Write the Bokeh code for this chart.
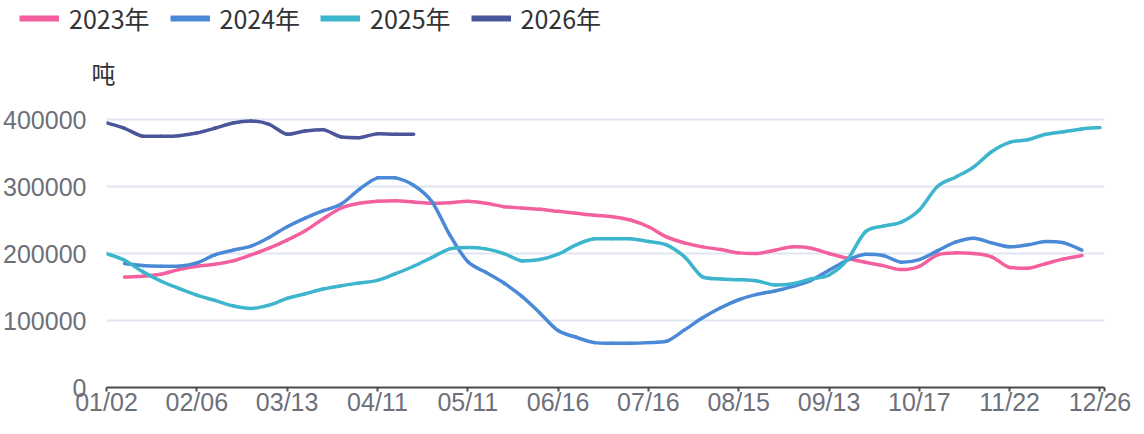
from bokeh.plotting import figure
from bokeh.layouts import column
from bokeh.models import (Range1d, FixedTicker, Legend, LegendItem, Label,
                          NumeralTickFormatter)
from bokeh.embed import file_html
from bokeh.resources import INLINE

# ---------------- data ----------------
tick_labels = ["01/02", "02/06", "03/13", "04/11", "05/11", "06/16",
               "07/16", "08/15", "09/13", "10/17", "11/22", "12/26"]
label_step = 5          # one shown date every 5 category slots
n_slots = 56            # category slots along the axis (index 0 .. 55)

series_names = ["2023年", "2024年", "2025年", "2026年"]

v2023 = [None, 165000, 166000, 169000, 176000, 181000, 184000, 189000, 198000, 208000,
         220000, 234000, 252000, 268000, 275000, 278000, 279000, 277000, 275000, 276000,
         278000, 275000, 270000, 268000, 266000, 263000, 260000, 257000, 255000, 250000,
         240000, 225000, 216000, 210000, 206000, 201000, 200000, 205000, 210000, 208000,
         200000, 193000, 187000, 182000, 176000, 181000, 198000, 201000, 200000, 195000,
         179000, 178000, 185000, 192000, 197000, None]

v2024 = [None, 185000, 182000, 181000, 181000, 186000, 198000, 205000, 211000, 224000,
         240000, 253000, 264000, 274000, 296000, 313000, 313000, 302000, 278000, 228000,
         188000, 172000, 156000, 136000, 111000, 85000, 75000, 67000, 66000, 66000,
         67000, 69000, 86000, 104000, 119000, 131000, 139000, 144000, 151000, 160000,
         175000, 190000, 199000, 197000, 187000, 191000, 204000, 217000, 223000, 216000,
         210000, 213000, 218000, 216000, 205000, None]

v2025 = [200000, 190000, 173000, 159000, 148000, 138000, 130000, 122000, 118000, 123000,
         133000, 140000, 147000, 152000, 156000, 160000, 170000, 181000, 194000, 207000,
         209000, 207000, 200000, 189000, 191000, 199000, 213000, 222000, 222000, 222000,
         218000, 213000, 195000, 165000, 162000, 161000, 159000, 153000, 155000, 162000,
         168000, 190000, 232000, 241000, 247000, 265000, 300000, 314000, 329000, 352000,
         366000, 370000, 378000, 382000, 386000, 388000]

v2026 = [395000, 387000, 375000, 375000, 376000, 380000, 387000, 395000, 398000, 393000,
         378000, 383000, 385000, 374000, 373000, 379000, 378000, 378000]

colors = ["#f4609f", "#4a89d6", "#3db5cc", "#4a5699"]
y_ticks = [0, 100000, 200000, 300000, 400000]
unit_text = "吨"


def smooth_segments(values, k=1.0 / 6.0):
    """Cubic Bezier pieces through the read values (Catmull-Rom style)."""
    pts = [(float(i), float(v)) for i, v in enumerate(values) if v is not None]
    out = {key: [] for key in ("x0", "y0", "x1", "y1", "cx0", "cy0", "cx1", "cy1")}
    n = len(pts)
    for i in range(n - 1):
        p0 = pts[max(i - 1, 0)]
        p1 = pts[i]
        p2 = pts[i + 1]
        p3 = pts[min(i + 2, n - 1)]
        c1x = p1[0] + (p2[0] - p0[0]) * k
        c1y = p1[1] + (p2[1] - p0[1]) * k
        c2x = p2[0] - (p3[0] - p1[0]) * k
        c2y = p2[1] - (p3[1] - p1[1]) * k
        lo, hi = min(p1[1], p2[1]), max(p1[1], p2[1])
        c1y = min(max(c1y, lo), hi)
        c2y = min(max(c2y, lo), hi)
        out["x0"].append(p1[0]); out["y0"].append(p1[1])
        out["x1"].append(p2[0]); out["y1"].append(p2[1])
        out["cx0"].append(c1x); out["cy0"].append(c1y)
        out["cx1"].append(c2x); out["cy1"].append(c2y)
    return out


W = 1134
H_LEG = 100
H_MAIN = 418 - H_LEG

# ---------------- legend / unit strip ----------------
lf = figure(width=W, height=H_LEG, output_backend="svg", toolbar_location=None,
            x_range=Range1d(0, W), y_range=Range1d(0, H_LEG),
            x_axis_location=None, y_axis_location=None, min_border=0)
if "frame_align" in lf.properties():
    lf.frame_align = False
lf.outline_line_color = None
lf.xgrid.grid_line_color = None
lf.ygrid.grid_line_color = None

legend_items = []
for name, col in zip(series_names, colors):
    proxy = lf.line(x=[-3, -2], y=[-3, -3], line_color=col, line_width=6)
    legend_items.append(LegendItem(label=name, renderers=[proxy]))

legend = Legend(items=legend_items, orientation="horizontal", location=(19, 64))
legend.glyph_width = 40
legend.glyph_height = 24
legend.label_standoff = 10
legend.spacing = 20
legend.padding = 0
legend.margin = 0
legend.border_line_color = None
legend.background_fill_alpha = 0
legend.label_text_font = "Noto Sans CJK SC"
legend.label_text_font_size = "25px"
legend.label_text_color = "#333333"
lf.add_layout(legend, "center")

unit = Label(x=103, y=28, text=unit_text,
             text_align="center", text_baseline="middle",
             text_font="Noto Sans CJK SC", text_font_size="24px",
             text_color="#333333")
lf.add_layout(unit)

# ---------------- main chart ----------------
x_end = (n_slots - 1) + 0.25
y_end = 428500

p = figure(width=W, height=H_MAIN, output_backend="svg", toolbar_location=None,
           x_range=Range1d(0, x_end), y_range=Range1d(0, y_end),
           min_border_left=97, min_border_right=30, min_border_top=0,
           min_border_bottom=28)
if "frame_align" in p.properties():
    p.frame_align = False
p.outline_line_color = None
p.background_fill_color = "white"
p.border_fill_color = "white"

p.xgrid.grid_line_color = None
p.ygrid.grid_line_color = "#e0e6f1"
p.ygrid.grid_line_width = 2

p.yaxis.ticker = FixedTicker(ticks=y_ticks)
p.yaxis.formatter = NumeralTickFormatter(format="0")
p.yaxis.axis_line_color = None
p.yaxis.major_tick_line_color = None
p.yaxis.minor_tick_line_color = None
p.yaxis.major_label_text_font = "Liberation Sans"
p.yaxis.major_label_text_font_size = "25px"
p.yaxis.major_label_text_color = "#6e7079"
p.yaxis.major_label_standoff = 14

tick_pos = [i * label_step for i in range(len(tick_labels))]
p.xaxis.ticker = FixedTicker(ticks=tick_pos + [x_end])
overrides = {pos: lab for pos, lab in zip(tick_pos, tick_labels)}
overrides[x_end] = ""
p.xaxis.major_label_overrides = overrides
p.xaxis.axis_line_color = "#4a4a4a"
p.xaxis.axis_line_width = 2
p.xaxis.major_tick_line_color = "#4a4a4a"
p.xaxis.major_tick_line_width = 2
p.xaxis.major_tick_out = 4
p.xaxis.major_tick_in = 0
p.xaxis.minor_tick_line_color = None
p.xaxis.major_label_text_font = "Liberation Sans"
p.xaxis.major_label_text_font_size = "25px"
p.xaxis.major_label_text_color = "#6e7079"
p.xaxis.major_label_standoff = -4

for vals, col in zip([v2023, v2024, v2025, v2026], colors):
    seg = smooth_segments(vals)
    p.bezier(x0=seg["x0"], y0=seg["y0"], x1=seg["x1"], y1=seg["y1"],
             cx0=seg["cx0"], cy0=seg["cy0"], cx1=seg["cx1"], cy1=seg["cy1"],
             line_color=col, line_width=3.5, line_cap="round")

layout = column(lf, p, spacing=0)
open("out.html", "w").write(file_html(layout, INLINE))
